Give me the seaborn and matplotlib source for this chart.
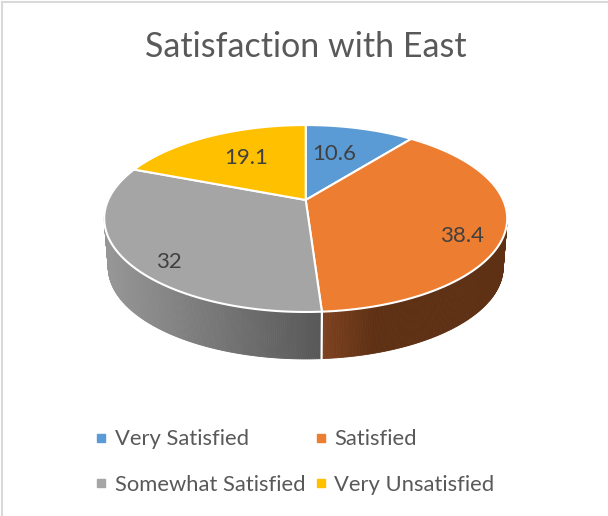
import numpy as np
import seaborn as sns
import matplotlib.pyplot as plt
from matplotlib.colors import to_rgb
from matplotlib.lines import Line2D

categories = ["Very Satisfied", "Satisfied", "Somewhat Satisfied", "Very Unsatisfied"]
values = [10.6, 38.4, 32, 19.1]
colors = ["#5B9BD5", "#ED7D31", "#A5A5A5", "#FFC000"]
title = "Satisfaction with East"

# pixel layout of the tilted pie (apex is above the ellipse centre because of perspective)
cx, cy = 305.7, 200
rx, ry, k = 197.5, 89.8, 0.198
depth, shrink = 49.2, 0.98
label_pos = [(334, 154), (462, 236), (169, 262), (246, 158)]

sns.set_theme(style="white")
plt.rcParams["font.family"] = ["Lato", "DejaVu Sans"]
palette = sns.color_palette(colors)


def rim(theta, scale=1.0, drop=0.0):
    # theta in degrees clockwise from 12 o'clock
    t = np.radians(theta)
    X, Y = np.sin(t), np.cos(t)
    d = 1 + k * Y
    return cx + scale * rx * X / d, cy + drop - scale * ry * Y / d


def side(ax, start, stop, x0, x1, c0, c1):
    # side wall as thin strips, shade follows the screen x
    c0, c1 = np.array(to_rgb(c0)), np.array(to_rgb(c1))
    edges = np.linspace(start, stop, 240)
    for a, b in zip(edges[:-1], edges[1:]):
        xa, ya = rim(a)
        xb, yb = rim(b)
        xc, yc = rim(b, shrink, depth)
        xd, yd = rim(a, shrink, depth)
        f = np.clip(((xa + xb) / 2 - x0) / (x1 - x0), 0, 1)
        col = c0 + (c1 - c0) * f
        ax.fill([xa, xb, xc, xd], [ya, yb, yc, yd], color=col, lw=0.6)


fig = plt.figure(figsize=(6.08, 5.16), dpi=100)
ax = fig.add_axes([0, 0, 1, 1])
ax.set_xlim(0, 608)
ax.set_ylim(516, 0)
ax.axis("off")

angles = np.cumsum([0] + values) / sum(values) * 360

# walls: only orange and grey face the viewer
side(ax, angles[1], angles[2], 322, 375, "#7E4220", "#5E3014")
side(ax, angles[2], angles[3], 108, 320, "#969696", "#585858")
x_top, y_top = rim(angles[2])
x_bot, y_bot = rim(angles[2], shrink, depth)
ax.plot([x_top, x_bot], [y_top, y_bot], color="white", lw=1.6, zorder=3)

# top face
for i in range(len(values)):
    th = np.linspace(angles[i], angles[i + 1], 200)
    xs, ys = rim(th)
    ax.fill(np.r_[cx, xs], np.r_[cy, ys], facecolor=palette[i], edgecolor="white",
            lw=1.5, joinstyle="round", zorder=4)

for v, (x, y) in zip(values, label_pos):
    ax.text(x, y, str(v), ha="center", va="center", fontsize=16, color="#404040", zorder=5)

ax.text(305.5, 47, title, ha="center", va="center", fontsize=24.5, color="#595959")

# outer frame only shows on the top and left of the crop
ax.plot([2, 2, 608], [516, 2, 2], color="#D9D9D9", lw=1.5, solid_joinstyle="miter")

handles = [Line2D([], [], ls="", marker="s", ms=6, color=palette[i]) for i in [0, 2, 1, 3]]
labels = [categories[i] for i in [0, 2, 1, 3]]
ax.legend(handles, labels, ncol=2, frameon=False, fontsize=15.8, labelcolor="#595959",
          loc="center left", bbox_to_anchor=(97 / 608, 1 - 462 / 516), borderpad=0,
          borderaxespad=0, handlelength=0.4, handletextpad=0.4, labelspacing=1.15,
          columnspacing=0.53)

fig.savefig("out.png", dpi=100)
